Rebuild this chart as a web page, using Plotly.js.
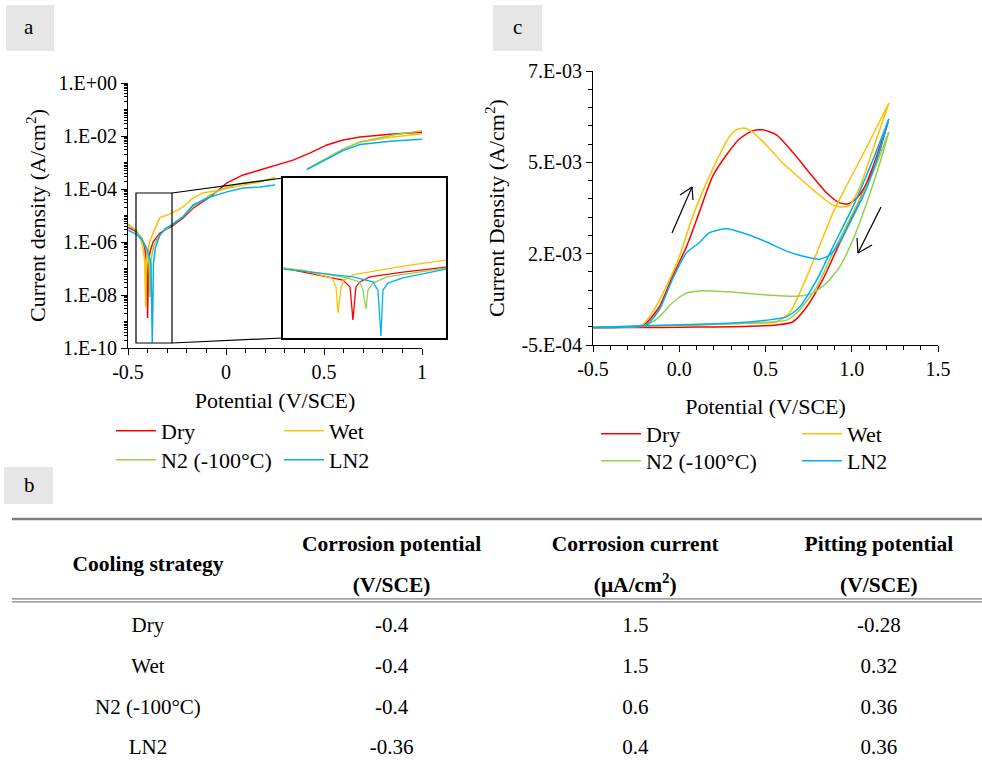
<!DOCTYPE html>
<html>
<head>
<meta charset="utf-8">
<script src="https://cdn.plot.ly/plotly-3.0.1.min.js"></script>
<style>
html,body{margin:0;padding:0;background:#fff;}
#chart{width:982px;height:764px;}
</style>
</head>
<body>
<div id="chart"></div>
<script>
// ===================== DATA =====================
const seriesNames  = ['Dry', 'Wet', 'N2 (-100°C)', 'LN2'];
const seriesColors = ['#FF0000', '#FFC000', '#92D050', '#00B0F0'];

// ---- Panel a : potentiodynamic polarisation, potential (V/SCE) vs current density (A/cm2)
const aDryX = [-0.5,-0.46,-0.43,-0.415,-0.405,-0.40,-0.395,-0.385,-0.372,-0.337,-0.276,-0.22,-0.168,-0.082,0.005,0.087,0.173,0.26,0.342,0.43,0.515,0.597,0.684,0.852,1.0];
const aDryY = [3.55e-6,2.51e-6,1.41e-6,6.3e-7,1.58e-7,1.35e-9,2.0e-7,5.0e-7,1.0e-6,2.19e-6,3.98e-6,7.9e-6,1.9e-5,5.0e-5,1.7e-4,3.4e-4,5.2e-4,8.1e-4,1.23e-3,2.3e-3,4.6e-3,7.1e-3,9.1e-3,1.2e-2,1.38e-2];

const aWetX = [-0.5,-0.46,-0.44,-0.425,-0.415,-0.41,-0.405,-0.39,-0.372,-0.337,-0.3,-0.276,-0.219,-0.168,-0.117,-0.082,-0.031,0.087,0.173,0.25,null,0.413,0.515,0.597,0.684,0.852,1.0];
const aWetY = [4.8e-6,2.8e-6,1.58e-6,7.1e-7,2.0e-7,3.5e-9,2.5e-7,1.0e-6,2.19e-6,8.3e-6,1.05e-5,1.23e-5,2.1e-5,4.6e-5,7.1e-5,7.8e-5,9.1e-5,1.41e-4,1.82e-4,2.8e-4,null,5.6e-4,1.48e-3,3.2e-3,5.9e-3,9.1e-3,1.23e-2];

const aN2X = [-0.5,-0.46,-0.43,-0.405,-0.393,-0.388,-0.383,-0.37,-0.35,-0.32,-0.276,-0.22,-0.168,-0.082,0.005,0.087,0.173,0.25,null,0.413,0.515,0.597,0.684,0.852,1.0];
const aN2Y = [4.5e-6,2.8e-6,1.41e-6,5.0e-7,1.58e-7,8.5e-9,2.0e-7,6.3e-7,1.41e-6,2.51e-6,4.5e-6,8.9e-6,2.1e-5,5.9e-5,1.2e-4,1.7e-4,2.0e-4,2.4e-4,null,5.6e-4,1.48e-3,3.2e-3,5.9e-3,1.1e-2,1.58e-2];

const aLN2X = [-0.5,-0.46,-0.43,-0.40,-0.383,-0.376,-0.37,-0.36,-0.337,-0.31,-0.276,-0.22,-0.168,-0.082,0.005,0.087,0.173,0.25,null,0.413,0.515,0.597,0.684,0.852,1.0];
const aLN2Y = [2.8e-6,2.0e-6,1.26e-6,5.0e-7,1.58e-7,1.6e-10,1.58e-7,6.3e-7,1.82e-6,3.2e-6,4.4e-6,8.9e-6,2.5e-5,5.0e-5,7.8e-5,1.1e-4,1.2e-4,1.41e-4,null,5.4e-4,1.35e-3,2.8e-3,4.8e-3,6.5e-3,7.6e-3];

// ---- Panel a inset : magnified view around the corrosion potential
const insDryX = [-0.448,-0.4345,-0.4205,-0.4065,-0.4016,-0.3996,-0.3975,-0.3947,-0.3877,-0.3646,-0.3345];
const insDryY = [1.86e-6,1.07e-6,6.2e-7,3.5e-7,1.35e-7,1.38e-9,1.35e-7,2.7e-7,5.4e-7,1.07e-6,2.14e-6];
const insWetX = [-0.448,-0.4345,-0.4226,-0.4142,-0.4114,-0.410,-0.4079,-0.4058,-0.3996,-0.3877,-0.3646,-0.3345];
const insWetY = [1.86e-6,1.41e-6,7.1e-7,4.7e-7,1.35e-7,3.6e-9,1.35e-7,3.5e-7,7.1e-7,1.07e-6,2.45e-6,5.6e-6];
const insN2X  = [-0.448,-0.4226,-0.4037,-0.3947,-0.3926,-0.3905,-0.3891,-0.3856,-0.3758,-0.3527,-0.3345];
const insN2Y  = [1.86e-6,9.3e-7,4.7e-7,2.7e-7,8.7e-8,6.3e-9,8.7e-8,2.3e-7,5.4e-7,1.07e-6,1.86e-6];
const insLN2X = [-0.448,-0.4226,-0.3996,-0.3856,-0.3821,-0.380,-0.3786,-0.3751,-0.3646,-0.3345];
const insLN2Y = [1.62e-6,9.3e-7,5.4e-7,2.7e-7,8.7e-8,1.48e-10,8.7e-8,2.3e-7,4.7e-7,1.62e-6];

// ---- Panel c : cyclic polarisation (forward and reverse scans), current density (A/cm2)
const cDryFwdX = [-0.5,-0.4,-0.3,-0.25,-0.192,-0.116,-0.041,0.041,0.116,0.192,0.273,0.349,0.424,0.483,0.564,0.657,0.756,0.855,0.93,0.977,1.029,1.087,1.145,1.209];
const cDryFwdY = [-2e-5,-2e-5,-1e-5,0,1.0e-4,5.4e-4,1.36e-3,2.18e-3,3.13e-3,4.1e-3,4.7e-3,5.14e-3,5.36e-3,5.39e-3,5.25e-3,4.78e-3,4.21e-3,3.66e-3,3.39e-3,3.36e-3,3.52e-3,3.93e-3,4.56e-3,5.58e-3];
const cDryRevX = [1.209,1.122,1.029,0.93,0.831,0.738,0.657,0.564,0.45,0.308,0.1,-0.1,-0.3,-0.5];
const cDryRevY = [5.58e-3,4.37e-3,3.28e-3,2.29e-3,1.28e-3,5.4e-4,1.3e-4,5e-5,2e-5,0,-1e-5,-2e-5,-2e-5,-3e-5];

const cWetFwdX = [-0.5,-0.4,-0.3,-0.215,-0.157,-0.076,0.0,0.076,0.157,0.233,0.29,0.331,0.378,0.424,0.506,0.599,0.698,0.797,0.89,0.948,0.988,1.047,1.122,1.215];
const cWetFwdY = [-2e-5,-2e-5,-1e-5,5e-5,3.8e-4,1.09e-3,1.91e-3,3.0e-3,3.93e-3,4.7e-3,5.2e-3,5.39e-3,5.44e-3,5.33e-3,4.97e-3,4.48e-3,4.07e-3,3.66e-3,3.33e-3,3.28e-3,3.33e-3,3.83e-3,4.84e-3,6.12e-3];
const cWetRevX = [1.215,1.087,0.948,0.89,0.797,0.698,0.64,0.564,0.407,0.116,-0.1,-0.3,-0.5];
const cWetRevY = [6.12e-3,4.92e-3,3.66e-3,3.11e-3,2.02e-3,9.2e-4,3.8e-4,1.3e-4,1.0e-4,5e-5,2e-5,0,-2e-5];

const cN2FwdX = [-0.5,-0.4,-0.3,-0.19,-0.116,-0.041,0.041,0.116,0.192,0.308,0.506,0.698,0.773,0.855,0.93,1.006,1.087,1.163,1.215];
const cN2FwdY = [-2e-5,-2e-5,-1e-5,5e-5,2.7e-4,6.5e-4,9.2e-4,9.8e-4,9.8e-4,9.5e-4,8.7e-4,8.4e-4,9.2e-4,1.2e-3,1.64e-3,2.37e-3,3.39e-3,4.48e-3,5.33e-3];
const cN2RevX = [1.215,1.122,1.006,0.89,0.797,0.698,0.622,0.407,0.116,-0.1,-0.3,-0.5];
const cN2RevY = [5.33e-3,4.21e-3,3.11e-3,2.02e-3,1.09e-3,4.6e-4,1.8e-4,1.0e-4,5e-5,3e-5,0,-2e-5];

const cLN2FwdX = [-0.5,-0.4,-0.3,-0.19,-0.116,-0.041,0.041,0.116,0.174,0.273,0.366,0.506,0.622,0.738,0.814,0.872,0.93,1.006,1.087,1.163,1.215];
const cLN2FwdY = [-2e-5,-2e-5,-1e-5,5e-5,4.6e-4,1.28e-3,2.02e-3,2.3e-3,2.57e-3,2.68e-3,2.57e-3,2.32e-3,2.07e-3,1.91e-3,1.85e-3,1.96e-3,2.32e-3,3.0e-3,3.8e-3,4.85e-3,5.69e-3];
const cLN2RevX = [1.215,1.122,1.006,0.89,0.797,0.698,0.622,0.506,0.308,0.116,-0.1,-0.3,-0.5];
const cLN2RevY = [5.69e-3,4.56e-3,3.28e-3,2.18e-3,1.28e-3,5.4e-4,2.7e-4,1.8e-4,1.0e-4,7e-5,4e-5,1e-5,-2e-5];

// ---- Axis ticks
const aXTickVals = [-0.5, 0, 0.5, 1];
const aXTickText = ['-0.5', '0', '0.5', '1'];
const aYTickVals = [1e-10, 1e-8, 1e-6, 1e-4, 1e-2, 1];
const aYTickText = ['1.E-10', '1.E-08', '1.E-06', '1.E-04', '1.E-02', '1.E+00'];
const cXTickVals = [-0.5, 0, 0.5, 1, 1.5];
const cXTickText = ['-0.5', '0.0', '0.5', '1.0', '1.5'];
const cYTickVals = [-5e-4, 2e-3, 4.5e-3, 7e-3];
const cYTickText = ['-5.E-04', '2.E-03', '5.E-03', '7.E-03'];

// ---- Panel b : table
const tableHeadTop    = ['Corrosion potential', 'Corrosion current', 'Pitting potential'];
const tableHeadBottom = ['(V/SCE)', '(μA/cm<sup>2</sup>)', '(V/SCE)'];
const tableFirstHead  = 'Cooling strategy';
const coolingStrategy   = ['Dry', 'Wet', 'N2 (-100°C)', 'LN2'];
const corrosionPotential = ['-0.4', '-0.4', '-0.4', '-0.36'];
const corrosionCurrent   = ['1.5', '1.5', '0.6', '0.4'];
const pittingPotential   = ['-0.28', '0.32', '0.36', '0.36'];

// ===================== FIGURE =====================
const W = 982, H = 764;
const FONT = 'Liberation Serif';
const px = v => v / W;
const py = v => 1 - v / H;

const aX = [aDryX, aWetX, aN2X, aLN2X], aY = [aDryY, aWetY, aN2Y, aLN2Y];
const iX = [insDryX, insWetX, insN2X, insLN2X], iY = [insDryY, insWetY, insN2Y, insLN2Y];
const cFX = [cDryFwdX, cWetFwdX, cN2FwdX, cLN2FwdX], cFY = [cDryFwdY, cWetFwdY, cN2FwdY, cLN2FwdY];
const cRX = [cDryRevX, cWetRevX, cN2RevX, cLN2RevX], cRY = [cDryRevY, cWetRevY, cN2RevY, cLN2RevY];

const traces = [];
for (let i = 0; i < 4; i++) {
  const legA = i < 2 ? 'legend' : 'legend2';
  traces.push({x: aX[i], y: aY[i], xaxis: 'x', yaxis: 'y', type: 'scatter', mode: 'lines',
    name: seriesNames[i], legend: legA, line: {color: seriesColors[i], width: 1.5},
    connectgaps: false, hoverinfo: 'skip'});
}
for (let i = 0; i < 4; i++) {
  traces.push({x: iX[i], y: iY[i], xaxis: 'x2', yaxis: 'y2', type: 'scatter', mode: 'lines',
    name: seriesNames[i], showlegend: false, line: {color: seriesColors[i], width: 1.3}, hoverinfo: 'skip'});
}
for (let i = 0; i < 4; i++) {
  const legC = i < 2 ? 'legend3' : 'legend4';
  traces.push({x: cFX[i], y: cFY[i], xaxis: 'x3', yaxis: 'y3', type: 'scatter', mode: 'lines',
    name: seriesNames[i], legend: legC, line: {color: seriesColors[i], width: 1.5, shape: 'spline', smoothing: 0.6},
    hoverinfo: 'skip'});
  traces.push({x: cRX[i], y: cRY[i], xaxis: 'x3', yaxis: 'y3', type: 'scatter', mode: 'lines',
    name: seriesNames[i], showlegend: false, line: {color: seriesColors[i], width: 1.5, shape: 'spline', smoothing: 0.6},
    hoverinfo: 'skip'});
}

// table as text placed through its own (hidden) axes: x = column, y = row
const tX = [], tY = [], tT = [];
const cols = [coolingStrategy, corrosionPotential, corrosionCurrent, pittingPotential];
for (let r = 0; r < coolingStrategy.length; r++) {
  for (let c = 0; c < cols.length; c++) { tX.push(c); tY.push(r); tT.push(cols[c][r]); }
}
const hX = [0], hY = [-1.5], hT = ['<b>' + tableFirstHead + '</b>'];
for (let c = 0; c < tableHeadTop.length; c++) {
  hX.push(c + 1); hY.push(-2); hT.push('<b>' + tableHeadTop[c] + '</b>');
  hX.push(c + 1); hY.push(-1); hT.push('<b>' + tableHeadBottom[c] + '</b>');
}
traces.push({x: tX, y: tY, text: tT, xaxis: 'x4', yaxis: 'y4', type: 'scatter', mode: 'text',
  textposition: 'middle center', textfont: {family: FONT, size: 21, color: '#000'}, showlegend: false, hoverinfo: 'skip'});
traces.push({x: hX, y: hY, text: hT, xaxis: 'x4', yaxis: 'y4', type: 'scatter', mode: 'text',
  textposition: 'middle center', textfont: {family: FONT, size: 21.5, color: '#000'}, showlegend: false, hoverinfo: 'skip'});

const tickFont = {family: FONT, size: 20, color: '#000'};
const titleFont = {family: FONT, size: 22, color: '#000'};
const baseAxis = {showgrid: false, zeroline: false, showline: true, linecolor: '#000', linewidth: 1,
  ticks: 'outside', tickcolor: '#000', tickwidth: 1, ticklen: 6, tickfont: tickFont, fixedrange: true};

const shapes = [];
const line = (x0, y0, x1, y1, w, col) => shapes.push({type: 'line', xref: 'paper', yref: 'paper',
  x0: px(x0), y0: py(y0), x1: px(x1), y1: py(y1), line: {color: col || '#000', width: w || 1.2}});
// panel label boxes
[[6, 5, 54, 51], [493, 5, 542, 51], [4, 467, 53, 504]].forEach(b => shapes.push({type: 'rect', xref: 'paper', yref: 'paper',
  x0: px(b[0]), x1: px(b[2]), y0: py(b[3]), y1: py(b[1]), fillcolor: '#E6E6E6', line: {width: 0}, layer: 'below'}));
// zoom rectangle + connectors in panel a
shapes.push({type: 'rect', xref: 'paper', yref: 'paper', x0: px(136), x1: px(172), y0: py(343), y1: py(193),
  line: {color: '#000', width: 1.2}, fillcolor: 'rgba(0,0,0,0)'});
line(172, 193, 283, 178, 1.2);
line(172, 343, 283, 338, 1.2);
// arrows in panel c
line(672, 233, 692, 187, 1.2); line(692, 187, 680, 195, 1.2); line(692, 187, 693, 200, 1.2);
line(881, 207, 858, 253, 1.2); line(858, 253, 857, 238, 1.2); line(858, 253, 872, 245, 1.2);
// table rules
shapes.push({type: 'line', xref: 'paper', yref: 'y4', x0: px(12), x1: 1, y0: -2.654, y1: -2.654, line: {color: '#808080', width: 2.5}});
shapes.push({type: 'line', xref: 'paper', yref: 'y4', x0: px(12), x1: 1, y0: -0.62, y1: -0.62, line: {color: '#808080', width: 1.2}});
shapes.push({type: 'line', xref: 'paper', yref: 'y4', x0: px(12), x1: 1, y0: -0.69, y1: -0.69, line: {color: '#808080', width: 1.2}});

const annotations = [
  {text: 'a', x: px(29), y: py(27), xref: 'paper', yref: 'paper', xanchor: 'center', yanchor: 'middle', showarrow: false, font: {family: FONT, size: 21, color: '#000'}},
  {text: 'c', x: px(517), y: py(27), xref: 'paper', yref: 'paper', xanchor: 'center', yanchor: 'middle', showarrow: false, font: {family: FONT, size: 21, color: '#000'}},
  {text: 'b', x: px(29), y: py(485), xref: 'paper', yref: 'paper', xanchor: 'center', yanchor: 'middle', showarrow: false, font: {family: FONT, size: 21, color: '#000'}}
];

const legBase = {orientation: 'h', xanchor: 'left', yanchor: 'middle', itemwidth: 40, bgcolor: 'rgba(0,0,0,0)',
  borderwidth: 0, font: {family: FONT, size: 22, color: '#000'}, traceorder: 'normal'};

const layout = {
  width: W, height: H, margin: {l: 0, r: 0, t: 0, b: 0, pad: 0, autoexpand: false},
  paper_bgcolor: '#fff', plot_bgcolor: '#fff', font: {family: FONT, color: '#000'},
  showlegend: true,
  legend:  Object.assign({}, legBase, {x: px(111), y: py(431), entrywidth: 113}),
  legend2: Object.assign({}, legBase, {x: px(111), y: py(460), entrywidth: 113}),
  legend3: Object.assign({}, legBase, {x: px(596), y: py(434), entrywidth: 146}),
  legend4: Object.assign({}, legBase, {x: px(596), y: py(461), entrywidth: 146}),
  xaxis: Object.assign({}, baseAxis, {domain: [px(128), px(422)], range: [-0.5, 1.0], anchor: 'y',
    tickmode: 'array', tickvals: aXTickVals, ticktext: aXTickText,
    minor: {dtick: 0.1, tick0: 0, ticks: 'outside', ticklen: 4, tickcolor: '#000', showgrid: false},
    title: {text: 'Potential (V/SCE)', font: titleFont, standoff: 10}}),
  yaxis: Object.assign({}, baseAxis, {domain: [py(348), py(83)], type: 'log', range: [-10, 0], anchor: 'x',
    tickmode: 'array', tickvals: aYTickVals, ticktext: aYTickText,
    minor: {dtick: 'D1', ticks: 'outside', ticklen: 3, tickcolor: '#000', showgrid: false},
    title: {text: 'Current density (A/cm<sup>2</sup>)', font: titleFont, standoff: 6}}),
  xaxis2: {domain: [px(283), px(446)], range: [-0.4485, -0.3345], anchor: 'y2', showgrid: false, zeroline: false,
    showline: true, mirror: true, linecolor: '#000', linewidth: 2, ticks: '', showticklabels: false, fixedrange: true},
  yaxis2: {domain: [py(338), py(178)], type: 'log', range: [-9.95, -0.3], anchor: 'x2', showgrid: false, zeroline: false,
    showline: true, mirror: true, linecolor: '#000', linewidth: 2, ticks: '', showticklabels: false, fixedrange: true},
  xaxis3: Object.assign({}, baseAxis, {domain: [px(593), px(938)], range: [-0.5, 1.5], anchor: 'y3',
    tickmode: 'array', tickvals: cXTickVals, ticktext: cXTickText,
    minor: {dtick: 0.1, tick0: 0, ticks: 'outside', ticklen: 4, tickcolor: '#000', showgrid: false},
    title: {text: 'Potential (V/SCE)', font: titleFont, standoff: 19}}),
  yaxis3: Object.assign({}, baseAxis, {domain: [py(345), py(71)], range: [-5e-4, 7e-3], anchor: 'x3',
    tickmode: 'array', tickvals: cYTickVals, ticktext: cYTickText,
    minor: {dtick: 5e-4, tick0: -5e-4, ticks: 'outside', ticklen: 4, tickcolor: '#000', showgrid: false},
    title: {text: 'Current Density (A/cm<sup>2</sup>)', font: titleFont, standoff: 10}}),
  xaxis4: {domain: [px(12), 1], range: [-0.558, 3.423], anchor: 'y4', visible: false, fixedrange: true},
  yaxis4: {domain: [0, py(510)], range: [3.366, -2.875], anchor: 'x4', visible: false, fixedrange: true},
  shapes: shapes,
  annotations: annotations
};

Plotly.newPlot('chart', traces, layout, {staticPlot: true, displayModeBar: false});
</script>
</body>
</html>
